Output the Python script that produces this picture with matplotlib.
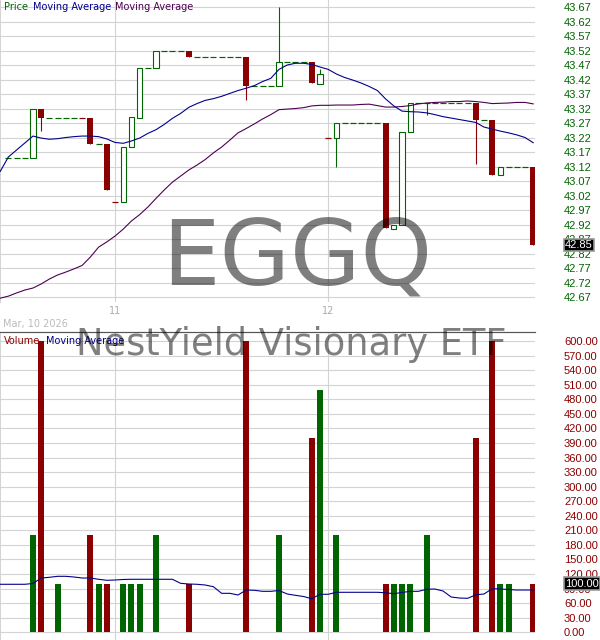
import matplotlib
matplotlib.use('Agg')
import matplotlib.pyplot as plt
from matplotlib.transforms import blended_transform_factory

# ---------------- data ----------------
first_day = -3  # index of first candle (day positions along x)
opens = [43.15, 43.15, 43.15,
         43.15, 43.32, 43.29, 43.29, 43.29, 43.29, 43.287, 43.287, 43.20, 43.20,
         43.00, 43.00, 43.19, 43.29, 43.46, 43.46, 43.52, 43.52, 43.52, 43.52,
         43.50, 43.50, 43.50, 43.50, 43.50, 43.50, 43.50, 43.40, 43.40, 43.40,
         43.40, 43.48, 43.48, 43.48, 43.48, 43.405, 43.22, 43.22, 43.27, 43.27,
         43.27, 43.27, 43.27, 43.27, 42.905, 42.92, 43.24, 43.34, 43.34, 43.34,
         43.34, 43.34, 43.34, 43.34, 43.34, 43.28, 43.28, 43.09, 43.12, 43.12,
         43.12, 43.12]
closes = [43.15, 43.15, 43.15,
          43.32, 43.29, 43.29, 43.29, 43.29, 43.29, 43.287, 43.20, 43.20, 43.04,
          43.00, 43.19, 43.29, 43.46, 43.46, 43.52, 43.52, 43.52, 43.52, 43.50,
          43.50, 43.50, 43.50, 43.50, 43.50, 43.50, 43.40, 43.40, 43.40, 43.40,
          43.48, 43.48, 43.48, 43.48, 43.41, 43.44, 43.22, 43.27, 43.27, 43.27,
          43.27, 43.27, 43.27, 42.91, 42.92, 43.24, 43.34, 43.34, 43.34, 43.34,
          43.34, 43.34, 43.34, 43.34, 43.28, 43.28, 43.09, 43.12, 43.12, 43.12,
          43.12, 42.85]
highs = [43.15, 43.15, 43.15,
         43.32, 43.32, 43.29, 43.29, 43.29, 43.29, 43.287, 43.287, 43.20, 43.20,
         43.00, 43.19, 43.29, 43.46, 43.46, 43.52, 43.52, 43.52, 43.52, 43.52,
         43.50, 43.50, 43.50, 43.50, 43.50, 43.50, 43.50, 43.40, 43.40, 43.40,
         43.67, 43.48, 43.48, 43.48, 43.48, 43.457, 43.22, 43.27, 43.27, 43.27,
         43.27, 43.27, 43.27, 43.27, 42.92, 43.24, 43.34, 43.34, 43.34, 43.34,
         43.34, 43.34, 43.34, 43.34, 43.34, 43.28, 43.28, 43.12, 43.12, 43.12,
         43.12, 43.12]
lows = [43.15, 43.15, 43.15,
        43.15, 43.245, 43.29, 43.29, 43.29, 43.29, 43.287, 43.20, 43.20, 43.04,
        43.00, 43.00, 43.19, 43.29, 43.46, 43.46, 43.52, 43.52, 43.52, 43.50,
        43.50, 43.50, 43.50, 43.50, 43.50, 43.50, 43.35, 43.40, 43.40, 43.40,
        43.40, 43.48, 43.48, 43.48, 43.41, 43.405, 43.22, 43.12, 43.27, 43.27,
        43.27, 43.27, 43.27, 42.91, 42.905, 42.92, 43.24, 43.34, 43.30, 43.34,
        43.34, 43.34, 43.34, 43.34, 43.13, 43.28, 43.09, 43.09, 43.12, 43.12,
        43.12, 42.85]
volumes = [0, 0, 0,
           200, 600, 0, 100, 0, 0, 0, 200, 100, 100,
           0, 100, 100, 100, 0, 200, 0, 0, 0, 100,
           0, 0, 0, 0, 0, 0, 600, 0, 0, 0,
           200, 0, 0, 0, 400, 500, 0, 200, 0, 0,
           0, 0, 0, 100, 100, 100, 100, 0, 200, 0,
           0, 0, 0, 0, 400, 0, 600, 100, 100, 0,
           0, 100]

ma_first_day = -4
price_ma_fast = [43.104, 43.154, 43.178, 43.202,
                 43.226, 43.219, 43.215, 43.217, 43.221, 43.224, 43.226, 43.226, 43.224, 43.216,
                 43.204, 43.201, 43.209, 43.219, 43.235, 43.248, 43.266, 43.287, 43.304, 43.325,
                 43.338, 43.349, 43.355, 43.363, 43.373, 43.383, 43.391, 43.400, 43.414, 43.425,
                 43.456, 43.471, 43.477, 43.477, 43.473, 43.464, 43.456, 43.440, 43.428, 43.419,
                 43.409, 43.397, 43.383, 43.354, 43.330, 43.312, 43.310, 43.309, 43.306, 43.300,
                 43.293, 43.288, 43.283, 43.278, 43.273, 43.257, 43.250, 43.243, 43.237, 43.230,
                 43.221, 43.203]
price_ma_slow = [42.667, 42.674, 42.685, 42.695,
                 42.702, 42.716, 42.733, 42.747, 42.757, 42.768, 42.780, 42.809, 42.843, 42.861,
                 42.881, 42.905, 42.933, 42.955, 42.981, 43.011, 43.040, 43.067, 43.088, 43.109,
                 43.126, 43.145, 43.168, 43.188, 43.212, 43.237, 43.252, 43.268, 43.285, 43.300,
                 43.317, 43.319, 43.321, 43.324, 43.330, 43.332, 43.332, 43.333, 43.333, 43.333,
                 43.335, 43.336, 43.331, 43.326, 43.326, 43.328, 43.331, 43.337, 43.340, 43.342,
                 43.343, 43.345, 43.345, 43.347, 43.345, 43.342, 43.338, 43.339, 43.340, 43.342,
                 43.342, 43.337]
volume_ma = [98.9, 98.9, 98.9, 98.9,
             100.5, 111.8, 113.3, 115.3, 115.3, 113.9, 111.8, 111.8, 109.2, 107.1,
             107.7, 108.8, 109.2, 109.2, 109.2, 109.2, 109.2, 109.2, 100.9, 99.5,
             98.9, 97.4, 93.9, 80.3, 80.3, 76.8, 87.1, 86.5, 84.4, 84.4,
             86.1, 78.9, 76.2, 73.7, 69.2, 78.3, 78.3, 82.4, 82.4, 82.4,
             82.4, 82.4, 82.4, 81.4, 79.5, 82.0, 84.4, 84.4, 88.6, 89.2,
             85.1, 72.7, 70.6, 70.0, 77.2, 78.9, 89.8, 89.2, 88.2, 87.1,
             87.1, 87.1]

date_ticks = [10, 36]
date_labels = ['11', '12']
start_date_label = 'Mar, 10 2026'
price_ticks = [42.67, 42.72, 42.77, 42.82, 42.87, 42.92, 42.97, 43.02, 43.07, 43.12, 43.17,
               43.22, 43.27, 43.32, 43.37, 43.42, 43.47, 43.52, 43.57, 43.62, 43.67]
volume_ticks = [0, 30, 60, 90, 120, 150, 180, 210, 240, 270, 300, 330, 360, 390, 420,
                450, 480, 510, 540, 570, 600]
ticker = 'EGGQ'
fund_name = 'NestYield Visionary ETF'

# ---------------- style ----------------
GREEN = '#006400'
RED = '#8b0000'
BLUE = '#00008b'
PURPLE = '#4b0050'
GRID = '#d3d3d3'
W, H = 600, 640
PX = 72 / 100  # points per pixel

fig = plt.figure(figsize=(W / 100, H / 100), dpi=100)
pax = fig.add_axes([0, 1 - 302 / H, 535 / W, 302 / H])
vax = fig.add_axes([0, 0, 535 / W, 308 / H])

days = [first_day + k for k in range(len(closes))]
ma_days = [ma_first_day + k for k in range(len(price_ma_fast))]
body_w = 6 / 8.2

prev_c = None
up_flags = []
for d, o, h, l, c in zip(days, opens, highs, lows, closes):
    if c > o:
        up = True
    elif c < o:
        up = False
    else:
        up = prev_c is None or c >= prev_c
    up_flags.append(up)
    col = GREEN if up else RED
    if h > l:
        pax.vlines(d, l, h, color=col, lw=1 * PX * 1.1, zorder=2)
    if c == o:
        pax.hlines(c, d - body_w / 2, d + body_w / 2, color=col, lw=1.2 * PX, zorder=3)
    else:
        lo, hi = min(o, c), max(o, c)
        if up:
            pax.bar(d, hi - lo, bottom=lo, width=body_w - 0.1, facecolor='white',
                    edgecolor=GREEN, linewidth=1.1 * PX, zorder=3)
        else:
            pax.bar(d, hi - lo, bottom=lo, width=body_w, facecolor=RED,
                    edgecolor='none', linewidth=0, zorder=3)
    prev_c = c

pax.plot(ma_days, price_ma_slow, color=PURPLE, lw=1.1 * PX, zorder=4)
pax.plot(ma_days, price_ma_fast, color=BLUE, lw=1.1 * PX, zorder=4)

vdays = [d for d, v in zip(days, volumes) if v > 0]
vvals = [v for v in volumes if v > 0]
vcols = [GREEN if u else RED for u, v in zip(up_flags, volumes) if v > 0]
vax.bar(vdays, vvals, width=body_w, color=vcols, zorder=3)
vax.plot(ma_days, volume_ma, color=BLUE, lw=1.1 * PX, zorder=4)

xlim = (-33 / 8.2, (535 - 33) / 8.2)
for ax in (pax, vax):
    ax.set_xlim(*xlim)
    ax.set_axisbelow(True)
    ax.grid(True, color=GRID, lw=1 * PX * 1.1)
    ax.yaxis.tick_right()
    for s in ('right', 'bottom', 'top'):
        ax.spines[s].set_visible(False)
    ax.spines['left'].set_color(GRID)
    ax.spines['left'].set_linewidth(1 * PX)
    ax.set_xticks(date_ticks)
    ax.tick_params(axis='both', length=0)

pax.set_ylim(43.67 - 294.7 / 290, 43.67 + 7.3 / 290)
pax.set_yticks(price_ticks)
pax.set_yticklabels([f'{t:.2f}' for t in price_ticks])
pax.tick_params(axis='y', pad=29 * PX, labelcolor=GREEN, labelsize=8)
pax.set_xticklabels(date_labels)
pax.tick_params(axis='x', pad=4 * PX, labelcolor='#aaaaaa', labelsize=7)

vscale = 291.3 / 600
vax.set_ylim(-7.7 / vscale, 300.3 / vscale)
vax.set_yticks(volume_ticks)
vax.set_yticklabels([f'{t:.2f}' for t in volume_ticks])
vax.tick_params(axis='y', pad=29 * PX, labelcolor=RED, labelsize=8)
vax.tick_params(axis='x', labelbottom=False)
vax.spines['top'].set_visible(True)
vax.spines['top'].set_color('#555555')
vax.spines['top'].set_linewidth(1 * PX * 1.2)

for lab in pax.get_yticklabels() + vax.get_yticklabels():
    lab.set_fontfamily('Liberation Sans')

# last-value boxes
for ax, val, txt in ((pax, closes[-1], f'{closes[-1]:.2f}'),
                     (vax, volumes[-1], f'{volumes[-1]:.2f}')):
    tr = blended_transform_factory(ax.transAxes, ax.transData)
    ax.annotate(txt, xy=(1, val), xycoords=tr, xytext=(30, 0), textcoords='offset pixels',
                ha='left', va='center', color='white', fontsize=8, family='Liberation Sans',
                bbox=dict(boxstyle='square,pad=0.12', fc='black', ec='#999999', lw=1.2),
                annotation_clip=False, zorder=10)

# legends
def ftext(xp, yp, s, color, **kw):
    fig.text(xp / W, 1 - yp / H, s, color=color, va='center', ha='left', fontsize=7, **kw)

ftext(4, 7, 'Price', GREEN)
ftext(33, 7, 'Moving Average', BLUE)
ftext(115, 7, 'Moving Average', PURPLE)
ftext(4, 341, 'Volume', RED)
ftext(46, 341, 'Moving Average', BLUE)
ftext(3, 324, start_date_label, '#bbbbbb')

# watermarks
fig.text(297 / W, 1 - 285 / H, ticker, fontsize=65.5, color='black', alpha=0.5,
         ha='center', va='baseline', zorder=5)
fig.text(291 / W, 1 - 355 / H, fund_name, fontsize=26.5, color='black', alpha=0.5,
         ha='center', va='baseline', zorder=5)

fig.savefig('out.png', dpi=100)
